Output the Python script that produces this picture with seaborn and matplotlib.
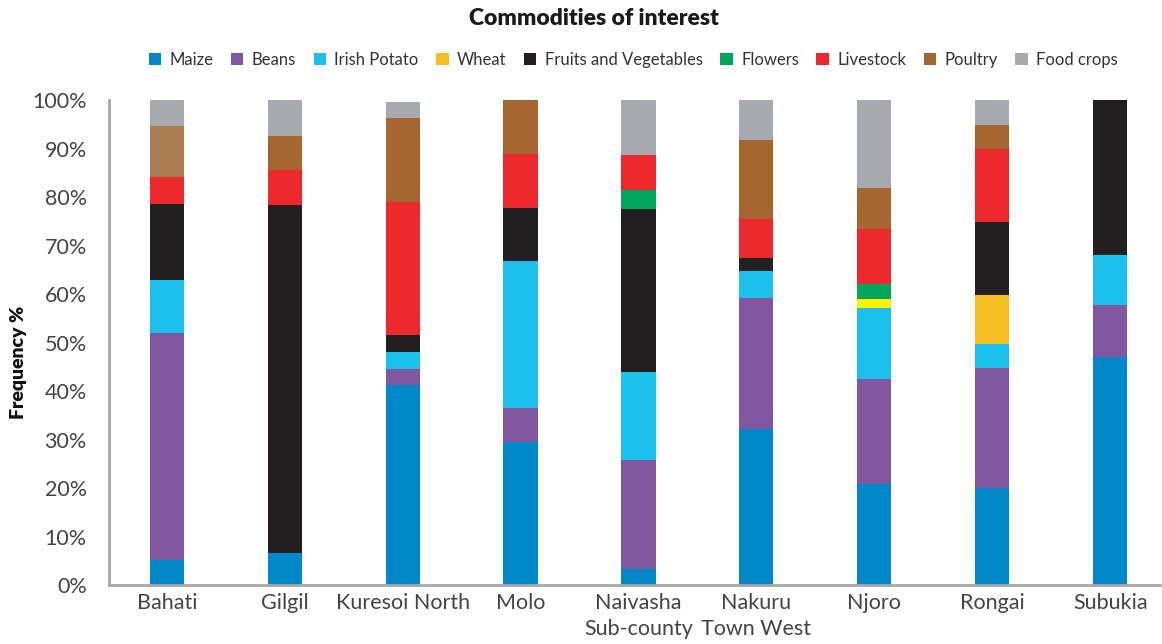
import numpy as np
import pandas as pd
import matplotlib
matplotlib.use("Agg")
import matplotlib.pyplot as plt
from matplotlib.patches import Patch
import seaborn as sns

# Sub-counties and share (%) of respondents naming each commodity
districts = ["Bahati", "Gilgil", "Kuresoi North", "Molo", "Naivasha\nSub-county",
             "Nakuru\nTown West", "Njoro", "Rongai", "Subukia"]
commodities = ["Maize", "Beans", "Irish Potato", "Wheat", "Fruits and Vegetables",
               "Flowers", "Livestock", "Poultry", "Food crops"]

maize = [5.1, 6.7, 41.2, 29.4, 3.4, 32.1, 20.9, 19.9, 47.0]
beans = [46.8, 0.0, 3.3, 7.2, 22.3, 27.0, 21.5, 24.8, 10.7]
irish_potato = [10.9, 0.0, 3.5, 30.2, 18.3, 5.6, 14.7, 4.9, 10.3]
wheat = [0.0, 0.0, 0.0, 0.0, 0.0, 0.0, 1.8, 10.1, 0.0]
fruits_veg = [15.7, 71.6, 3.5, 10.9, 33.5, 2.7, 0.0, 15.1, 32.0]
flowers = [0.0, 0.0, 0.0, 0.0, 3.9, 0.0, 3.2, 0.0, 0.0]
livestock = [5.6, 7.2, 27.4, 11.1, 7.2, 8.0, 11.3, 15.1, 0.0]
poultry = [10.5, 7.1, 17.4, 11.2, 0.0, 16.3, 8.4, 4.9, 0.0]
food_crops = [5.4, 7.4, 3.3, 0.0, 11.4, 8.3, 18.2, 5.2, 0.0]

colors = ["#0087C9", "#8157A0", "#1BC0EC", "#F6BE22", "#231F20",
          "#00A65D", "#EC2A2E", "#A56630", "#A7ABB1"]

series = [maize, beans, irish_potato, wheat, fruits_veg,
          flowers, livestock, poultry, food_crops]
df = pd.DataFrame(np.array(series).T, columns=commodities)
df.insert(0, "district", districts)
cum = df[commodities].cumsum(axis=1)

sns.set_theme(style="white")
plt.rcParams["font.family"] = ["Lato", "DejaVu Sans"]

fig = plt.figure(figsize=(11.62, 6.44), dpi=100)
ax = fig.add_axes([0.0938, 0.0916, 0.9042, 0.7531])

# Stacked bars: draw cumulative totals from the top layer downwards
layers = {}
for name, col in reversed(list(zip(commodities, colors))):
    n_before = len(ax.patches)
    sns.barplot(x=df["district"], y=cum[name], color=col, width=0.29,
                saturation=1, linewidth=0, ax=ax, errorbar=None)
    layers[name] = ax.patches[n_before:]

# Individual shades used in the source figure
layers["Poultry"][0].set_facecolor("#A87B50")
layers["Wheat"][6].set_facecolor("#FFF200")

ax.set_xlim(-0.49, 8.42)
ax.set_ylim(0, 100)
ax.set_yticks(np.arange(0, 101, 10))
ax.set_yticklabels([f"{v}%" for v in range(0, 101, 10)])
ax.tick_params(axis="both", length=0, labelsize=15.5, labelcolor="#444444")
ax.tick_params(axis="y", pad=16)
ax.tick_params(axis="x", pad=6)
for lab in ax.get_xticklabels():
    lab.set_linespacing(1.35)

for side in ["top", "right"]:
    ax.spines[side].set_visible(False)
for side in ["left", "bottom"]:
    ax.spines[side].set_color("#A8A8AC")
    ax.spines[side].set_linewidth(2)

ax.set_xlabel("")
ax.set_ylabel("Frequency %", fontsize=14, fontweight="heavy", color="#111111")
ax.yaxis.set_label_coords(-0.078, 0.46)

fig.text(0.511, 0.972, "Commodities of interest", ha="center", va="center",
         fontsize=16.5, fontweight="heavy", color="#1a1a1a")

handles = [Patch(facecolor=c, edgecolor="none") for c in colors]
fig.legend(handles, commodities, loc="center", bbox_to_anchor=(0.545, 0.907),
           ncol=9, frameon=False, fontsize=12, handlelength=0.75,
           handleheight=0.75, handletextpad=0.5, columnspacing=1.05,
           labelcolor="#333333")

fig.savefig("out.png", dpi=100)
